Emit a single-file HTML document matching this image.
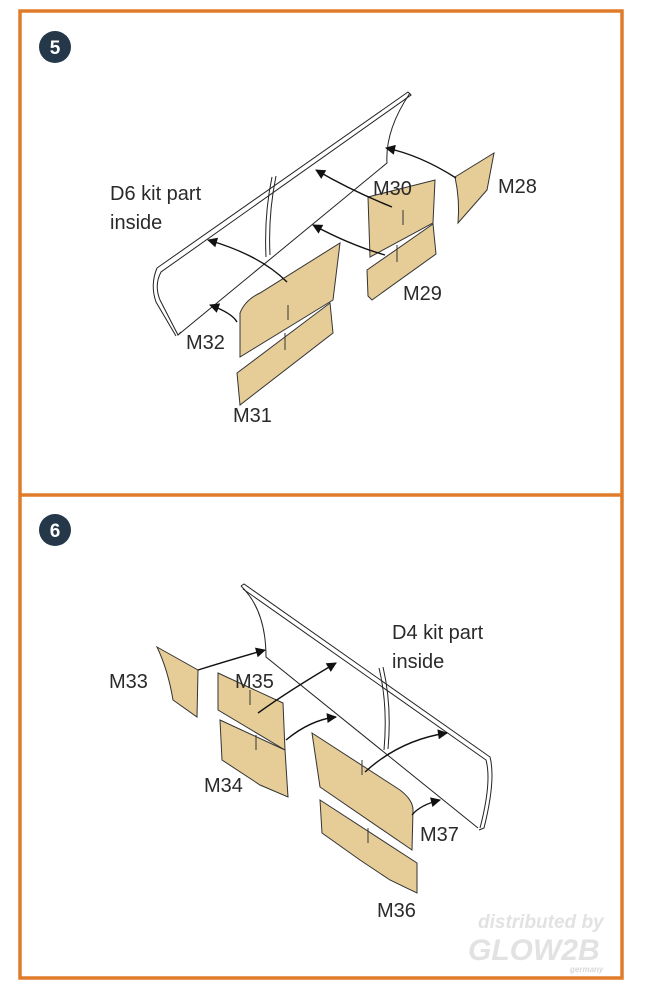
<!DOCTYPE html>
<html><head><meta charset="utf-8"><style>
body{margin:0;background:#fff;}
svg{display:block;}
text{font-family:"Liberation Sans",sans-serif;fill:#2a2a2a;}
</style></head><body>
<svg width="651" height="1000" viewBox="0 0 651 1000" xmlns="http://www.w3.org/2000/svg">
<defs>
<marker id="ah" viewBox="0 0 10 10" refX="9" refY="5" markerWidth="7" markerHeight="6" markerUnits="userSpaceOnUse" orient="auto"><path d="M0,0 L10,5 L0,10 z" fill="#111"/></marker>
<marker id="ah2" viewBox="0 0 10 10" refX="9" refY="5" markerWidth="13" markerHeight="10" markerUnits="userSpaceOnUse" orient="auto"><path d="M0,0 L10,5 L0,10 z" fill="#111"/></marker>
</defs>
<rect x="20" y="11" width="602" height="967" fill="none" stroke="#e07b2a" stroke-width="3.5"/>
<line x1="20" y1="495" x2="622" y2="495" stroke="#e07b2a" stroke-width="3.5"/>
<circle cx="55" cy="47" r="16" fill="#24384a"/>
<text x="55" y="54" text-anchor="middle" style="fill:#fff;font-weight:bold;font-size:19px">5</text>
<circle cx="55" cy="530" r="16" fill="#24384a"/>
<text x="55" y="537" text-anchor="middle" style="fill:#fff;font-weight:bold;font-size:19px">6</text>

<g fill="none" stroke="#222" stroke-width="1">
<path d="M157,268 L408,92 L411,95 L161,272 Q154,285 160,300 L178,335 L181,332"/>
<path d="M157,268 Q150,285 156,302 L176,336"/>
<path d="M178,335 L387,163 Q385,130 410,93"/>
<path d="M272,177 Q264,215 266,257 M276,176 Q268,215 270,255"/>
<path d="M241,586 L244,584 L490,757 Q496,780 484,828 L479,830"/>
<path d="M243,589 L486,760 Q492,782 480,828"/>
<path d="M241,586 Q266,610 266,657 L478,828"/>
<path d="M379,668 Q388,705 384,750 M383,667 Q392,705 388,749"/>
</g>

<g fill="#e6cd98" stroke="#333" stroke-width="1">
<path d="M455,177 L494,153 L487,190 L458,223 Q460,200 455,177z"/>
<path d="M368,197 L435,180 L433,223 L370,257z"/>
<path d="M367,270 L433,224 L436,254 L372,300 L368,296z"/>
<path d="M240,313 Q245,300 260,293 L340,243 L333,300 L240,357z"/>
<path d="M237,373 L330,303 L333,333 L240,405z"/>
<path d="M157,647 L198,670 L197,717 L173,700 Q168,670 157,647z"/>
<path d="M218,673 L283,703 L285,750 L218,710z"/>
<path d="M220,720 L285,750 L288,797 L260,785 L222,760z"/>
<path d="M312,733 L400,790 Q413,800 413,810 L412,850 L320,787z"/>
<path d="M320,800 L417,863 L417,893 L390,880 L360,860 L322,833z"/>
</g>
<g stroke="#333" stroke-width="1">
<line x1="403" y1="210" x2="403" y2="225"/><line x1="397" y1="245" x2="397" y2="262"/>
<line x1="288" y1="305" x2="288" y2="320"/><line x1="285" y1="333" x2="285" y2="350"/>
<line x1="250" y1="690" x2="250" y2="705"/><line x1="256" y1="735" x2="256" y2="750"/>
<line x1="362" y1="760" x2="362" y2="775"/><line x1="368" y1="828" x2="368" y2="843"/>
</g>
<g fill="none" stroke="#111" stroke-width="1.4" marker-end="url(#ah2)">
<path d="M456,178 Q420,155 386,148"/>
<path d="M392,207 Q350,190 316,170"/>
<path d="M385,255 Q350,245 313,225"/>
<path d="M287,282 Q260,255 208,240"/>
<path d="M237,322 Q232,313 210,305"/>
<path d="M198,670 Q230,660 265,650"/>
<path d="M258,713 Q290,690 336,663"/>
<path d="M286,740 Q310,720 336,717"/>
<path d="M365,772 Q400,740 447,733"/>
<path d="M412,815 Q420,805 440,800"/>
</g>

<g style="font-size:20px">
<text x="110" y="200">D6 kit part</text>
<text x="110" y="229">inside</text>
<text x="373" y="195">M30</text>
<text x="498" y="193">M28</text>
<text x="403" y="300">M29</text>
<text x="186" y="349">M32</text>
<text x="233" y="422">M31</text>
<text x="392" y="639">D4 kit part</text>
<text x="392" y="668">inside</text>
<text x="109" y="688">M33</text>
<text x="235" y="688">M35</text>
<text x="204" y="792">M34</text>
<text x="420" y="841">M37</text>
<text x="377" y="917">M36</text>
</g>
<g style="font-style:italic;font-weight:bold;">
<text x="478" y="928" style="font-size:19px;fill:#e2e2e2">distributed by</text>
<text x="468" y="960" style="font-size:30px;fill:#e2e2e2">GLOW2B</text>
<text x="570" y="972" style="font-size:8px;fill:#d8d8d8">germany</text>
</g>
</svg>
</body></html>
